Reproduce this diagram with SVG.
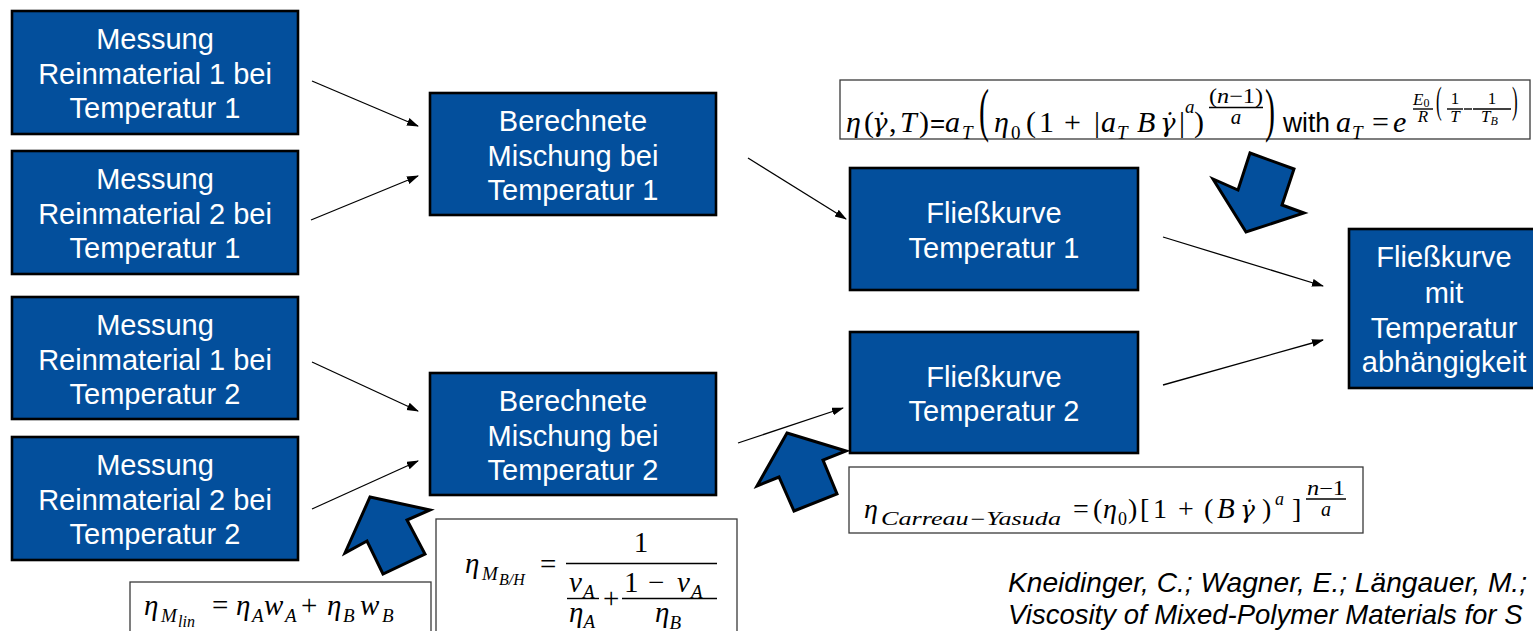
<svg xmlns="http://www.w3.org/2000/svg" width="1533" height="631" viewBox="0 0 1533 631">
<defs>
<style>
.node rect{fill:#034f9c;stroke:#000;stroke-width:2.6}
.node text{font-family:"Liberation Sans",Arial,sans-serif;font-size:29px;fill:#fff;text-anchor:middle}
.conn line{stroke:#000;stroke-width:1.3;marker-end:url(#ah)}
.fat{fill:#034f9c;stroke:#000;stroke-width:3;stroke-linejoin:miter}
.fbox{fill:#fff;stroke:#3a3a3a;stroke-width:1.3}
.m{font-family:"Liberation Serif","DejaVu Serif",serif;font-style:italic;fill:#000}
.r{font-family:"Liberation Serif","DejaVu Serif",serif;font-style:normal;fill:#000}
.g{font-family:"DejaVu Serif",serif;font-style:italic;fill:#000}
.s{font-family:"Liberation Sans",Arial,sans-serif;fill:#000}
.bar{stroke:#000;stroke-width:1.4}
.cite{font-family:"Liberation Sans",Arial,sans-serif;font-style:italic;font-size:27.5px;fill:#000}
</style>
<marker id="ah" markerWidth="12" markerHeight="10" refX="11" refY="4" orient="auto" markerUnits="userSpaceOnUse">
<path d="M0,0 L12,4 L0,8 Z" fill="#000"/>
</marker>
</defs>
<rect width="1533" height="631" fill="#fff"/>

<!-- formula boxes -->
<g id="formula-top">
<rect class="fbox" x="840" y="80" width="690" height="59"/>
<text class="m" x="846" y="132" font-size="30">η</text>
<text class="r" x="864" y="132" font-size="30">(</text>
<text class="g" x="872" y="132" font-size="26">γ̇</text>
<text class="r" x="889" y="132" font-size="30">,</text>
<text class="m" x="900" y="132" font-size="30">T</text>
<text class="r" x="919" y="132" font-size="30">)</text>
<text class="s" x="930" y="132" font-size="26">=</text>
<text class="m" x="945" y="132" font-size="30">a</text>
<text class="m" x="962" y="139" font-size="19">T</text>
<text class="r" transform="translate(979,129.5) scale(0.5,1)" font-size="60">(</text>
<text class="m" x="994" y="132" font-size="30">η</text>
<text class="r" x="1011" y="139" font-size="19">0</text>
<text class="r" x="1026" y="132" font-size="30">(</text>
<text class="r" x="1039" y="132" font-size="30">1</text>
<text class="r" x="1064" y="132" font-size="30">+</text>
<text class="r" x="1094" y="132" font-size="30">|</text>
<text class="m" x="1101" y="132" font-size="30">a</text>
<text class="m" x="1117" y="139" font-size="19">T</text>
<text class="m" x="1137" y="132" font-size="30">B</text>
<text class="g" x="1160" y="132" font-size="26">γ̇</text>
<text class="r" x="1179" y="132" font-size="30">|</text>
<text class="m" x="1185" y="113" font-size="19">a</text>
<text class="r" x="1194" y="132" font-size="30">)</text>
<text class="r" x="1209" y="103" font-size="21" textLength="54" lengthAdjust="spacingAndGlyphs">(<tspan class="m">n</tspan>−1)</text>
<line class="bar" x1="1209" y1="107.5" x2="1263" y2="107.5"/>
<text class="m" x="1236" y="124" font-size="21" text-anchor="middle">a</text>
<text class="r" transform="translate(1265,129.5) scale(0.5,1)" font-size="60">)</text>
<text class="s" x="1283" y="132" font-size="27" textLength="47" lengthAdjust="spacingAndGlyphs">with</text>
<text class="m" x="1336" y="132" font-size="30">a</text>
<text class="m" x="1352" y="139" font-size="19">T</text>
<text class="r" x="1372" y="132" font-size="30">=</text>
<text class="m" x="1393" y="132" font-size="30">e</text>
<text class="m" x="1413" y="105" font-size="17">E<tspan class="r" font-size="12" dy="2">0</tspan></text>
<line class="bar" x1="1413" y1="109" x2="1433" y2="109" stroke-width="1"/>
<text class="m" x="1423" y="122" font-size="17" text-anchor="middle">R</text>
<text class="r" transform="translate(1436,113) scale(0.45,1)" font-size="38">(</text>
<text class="r" x="1455" y="104" font-size="17" text-anchor="middle">1</text>
<line class="bar" x1="1447" y1="109" x2="1463" y2="109" stroke-width="1"/>
<text class="m" x="1455" y="122" font-size="17" text-anchor="middle">T</text>
<line class="bar" x1="1464" y1="109" x2="1472" y2="109" stroke-width="1"/>
<text class="r" x="1492" y="104" font-size="17" text-anchor="middle">1</text>
<line class="bar" x1="1473" y1="109" x2="1511" y2="109" stroke-width="1"/>
<text class="m" x="1481" y="122" font-size="17">T<tspan font-size="12" dy="3">B</tspan></text>
<text class="r" transform="translate(1512,113) scale(0.45,1)" font-size="38">)</text>
</g>

<g id="formula-lin">
<rect class="fbox" x="130" y="582" width="301" height="60"/>
<text class="m" x="144" y="615" font-size="29">η</text>
<text class="m" x="161" y="622" font-size="19">M</text>
<text class="m" x="178" y="627" font-size="16">lin</text>
<text class="r" x="212" y="615" font-size="29">=</text>
<text class="m" x="236" y="615" font-size="29">η</text>
<text class="m" x="252" y="622" font-size="19">A</text>
<text class="m" x="264" y="615" font-size="29">w</text>
<text class="m" x="285" y="622" font-size="19">A</text>
<text class="r" x="301" y="615" font-size="29">+</text>
<text class="m" x="327" y="615" font-size="29">η</text>
<text class="m" x="343" y="622" font-size="19">B</text>
<text class="m" x="360" y="615" font-size="29">w</text>
<text class="m" x="382" y="622" font-size="19">B</text>
</g>

<g id="formula-bh">
<rect class="fbox" x="436" y="519" width="301" height="123"/>
<text class="m" x="465" y="573" font-size="29">η</text>
<text class="m" x="482" y="580" font-size="19">M</text>
<text class="m" x="499" y="585" font-size="16">B/H</text>
<text class="r" x="540" y="574" font-size="29">=</text>
<line class="bar" x1="566" y1="563.5" x2="717" y2="563.5" stroke-width="1.8"/>
<text class="r" x="641" y="552" font-size="29" text-anchor="middle">1</text>
<text class="m" x="569" y="592" font-size="29">v<tspan font-size="19" dx="1" dy="6">A</tspan></text>
<line class="bar" x1="567" y1="598.5" x2="599" y2="598.5" stroke-width="1.8"/>
<text class="m" x="569" y="622" font-size="29">η<tspan font-size="19" dy="6">A</tspan></text>
<text class="r" x="603" y="608" font-size="29">+</text>
<text class="r" x="624" y="592" font-size="29">1</text>
<text class="r" x="648" y="592" font-size="29">−</text>
<text class="m" x="677" y="592" font-size="29">v<tspan font-size="19" dx="1" dy="6">A</tspan></text>
<line class="bar" x1="622" y1="598.5" x2="717" y2="598.5" stroke-width="1.8"/>
<text class="m" x="655" y="622" font-size="29">η<tspan font-size="19" dy="7">B</tspan></text>
</g>

<g id="formula-carreau">
<rect class="fbox" x="849" y="467" width="514" height="66"/>
<text class="m" x="864" y="518" font-size="28">η</text>
<text class="m" x="881" y="525" font-size="18" textLength="180" lengthAdjust="spacingAndGlyphs">Carreau−Yasuda</text>
<text class="r" x="1073" y="518" font-size="28">=</text>
<text class="r" x="1093" y="518" font-size="28">(</text>
<text class="m" x="1103" y="518" font-size="28">η</text>
<text class="r" x="1118" y="525" font-size="18">0</text>
<text class="r" x="1128" y="518" font-size="28">)</text>
<text class="r" x="1140" y="518" font-size="28">[</text>
<text class="r" x="1153" y="518" font-size="28">1</text>
<text class="r" x="1178" y="518" font-size="28">+</text>
<text class="r" x="1204" y="518" font-size="28">(</text>
<text class="m" x="1217" y="518" font-size="29">B</text>
<text class="g" x="1240" y="518" font-size="25">γ̇</text>
<text class="r" x="1262" y="518" font-size="28">)</text>
<text class="m" x="1275" y="505" font-size="18">a</text>
<text class="r" x="1292" y="518" font-size="28">]</text>
<text class="r" x="1307" y="495" font-size="20" textLength="38" lengthAdjust="spacingAndGlyphs"><tspan class="m">n</tspan>−1</text>
<line class="bar" x1="1306" y1="499" x2="1346" y2="499"/>
<text class="m" x="1326" y="516" font-size="20" text-anchor="middle">a</text>
</g>

<!-- fat arrows -->
<g id="fat-arrows">
<polygon class="fat" points="1250,153 1294,169 1282,205 1304,213 1246,232 1213,179 1238,190"/>
<polygon class="fat" points="370,497 430,510 407,520 425,554 383,574 367,541 345,553"/>
<polygon class="fat" points="787,433 846,451 823,460 837,494 794,511 779,477 757,486"/>
</g>

<!-- nodes -->
<g id="n1" class="node"><rect x="12" y="11" width="286" height="123"/>
<text x="155" y="49">Messung</text><text x="155" y="83.5">Reinmaterial 1 bei</text><text x="155" y="118">Temperatur 1</text></g>
<g id="n2" class="node"><rect x="12" y="151" width="286" height="123"/>
<text x="155" y="189">Messung</text><text x="155" y="223.5">Reinmaterial 2 bei</text><text x="155" y="258">Temperatur 1</text></g>
<g id="n3" class="node"><rect x="12" y="297" width="286" height="122"/>
<text x="155" y="335">Messung</text><text x="155" y="369.5">Reinmaterial 1 bei</text><text x="155" y="404">Temperatur 2</text></g>
<g id="n4" class="node"><rect x="12" y="437" width="286" height="123"/>
<text x="155" y="475">Messung</text><text x="155" y="509.5">Reinmaterial 2 bei</text><text x="155" y="544">Temperatur 2</text></g>
<g id="b1" class="node"><rect x="430" y="93" width="286" height="122"/>
<text x="573" y="131">Berechnete</text><text x="573" y="165.5">Mischung bei</text><text x="573" y="200">Temperatur 1</text></g>
<g id="b2" class="node"><rect x="430" y="373" width="286" height="122"/>
<text x="573" y="411">Berechnete</text><text x="573" y="445.5">Mischung bei</text><text x="573" y="480">Temperatur 2</text></g>
<g id="f1" class="node"><rect x="850" y="168" width="288" height="122"/>
<text x="994" y="223">Fließkurve</text><text x="994" y="258">Temperatur 1</text></g>
<g id="f2" class="node"><rect x="850" y="332" width="288" height="121"/>
<text x="994" y="387">Fließkurve</text><text x="994" y="421">Temperatur 2</text></g>
<g id="fm" class="node"><rect x="1349" y="229" width="192" height="159"/>
<text x="1444" y="267">Fließkurve</text><text x="1444" y="302.5">mit</text><text x="1444" y="338">Temperatur</text><text x="1444" y="372">abhängigkeit</text></g>

<!-- connectors -->
<g id="connectors" class="conn">
<line x1="312" y1="81" x2="418" y2="126"/>
<line x1="311" y1="220" x2="418" y2="176"/>
<line x1="312" y1="362" x2="418" y2="411"/>
<line x1="312" y1="509" x2="418" y2="461"/>
<line x1="748" y1="158" x2="846" y2="219"/>
<line x1="738" y1="443" x2="843" y2="408"/>
<line x1="1163" y1="237" x2="1323" y2="286"/>
<line x1="1163" y1="385" x2="1323" y2="340"/>
</g>

<g id="citation">
<text class="cite" x="1008" y="592" textLength="519" lengthAdjust="spacingAndGlyphs">Kneidinger, C.; Wagner, E.; Längauer, M.;</text>
<text class="cite" x="1008" y="624">Viscosity of Mixed-Polymer Materials for S</text>
</g>
</svg>
